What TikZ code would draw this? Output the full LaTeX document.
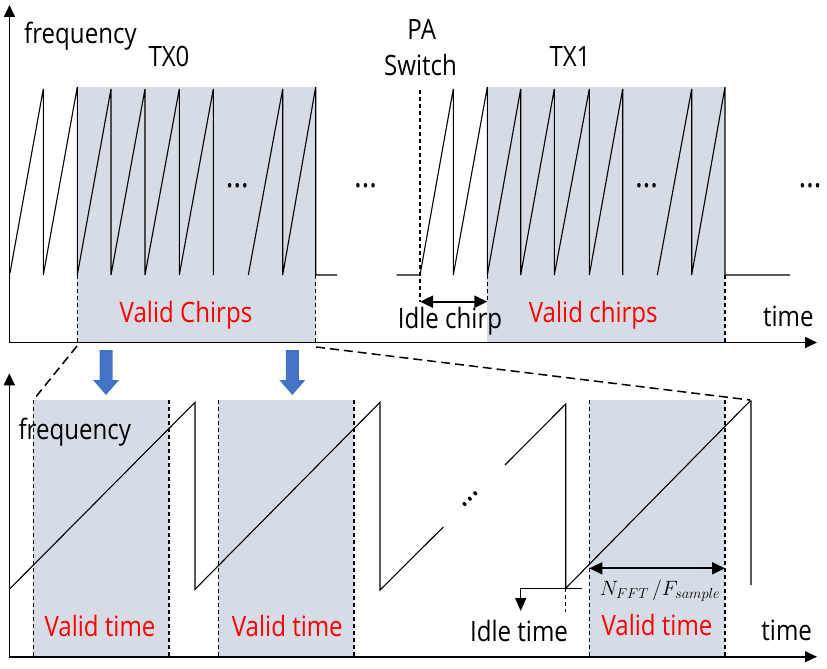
\documentclass[tikz,border=0pt]{standalone}
\usepackage{fontspec}
\setmainfont{Open Sans}[FakeStretch=0.86]
\usetikzlibrary{arrows.meta}
\definecolor{shade}{HTML}{D6DCE5}
\definecolor{bluearr}{HTML}{4472C4}
\definecolor{redtxt}{HTML}{FF0000}
\tikzset{
  axis/.style={line width=1.6pt, line join=miter, {Triangle[length=12pt,width=11pt]}-{Triangle[length=12pt,width=11pt]}},
  chirp/.style={line width=1.1pt, line join=miter},
  vdash/.style={line width=1.1pt, dash pattern=on 4pt off 3pt},
  zoomdash/.style={line width=1.5pt, dash pattern=on 9pt off 5pt},
  lbl/.style={font=\fontsize{28}{33}\selectfont, inner sep=0pt, anchor=base},
  redlbl/.style={lbl, text=redtxt},
  dotsl/.style={font=\fontsize{34}{34}\selectfont, inner sep=0pt},
  shadebox/.style={fill=shade, draw=none},
  dblarrow/.style={line width=2pt, {Triangle[length=13pt,width=12pt]}-{Triangle[length=13pt,width=12pt]}},
  bluedown/.style={fill=bluearr, draw=none}
}
\begin{document}
\begin{tikzpicture}[x=1pt,y=-1pt]
\useasboundingbox (0,0) rectangle (827,669);
% ---------- top panel ----------
\fill[shadebox] (77.3,87) rectangle (315.7,342);
\fill[shadebox] (487.3,87) rectangle (725,342);
% chirps TX0
\draw[chirp] (10,273) -- (43.3,89) -- (43.3,275) -- (77.3,87) -- (77.3,275) -- (111,89) -- (111,275)
  -- (145,89) -- (145,275) -- (179.3,89) -- (179.3,275) -- (213.3,89) -- (213.3,275);
\draw[chirp] (248.3,275) -- (282.7,89) -- (282.7,275) -- (315.7,87) -- (315.7,275) -- (337,275);
% chirps TX1
\draw[chirp] (396.7,275) -- (420,275) -- (453.3,89) -- (453.3,275) -- (487.3,87) -- (487.3,275)
  -- (520.7,89) -- (520.7,275) -- (554.3,89) -- (554.3,275) -- (589.3,89) -- (589.3,275)
  -- (622.7,89) -- (622.7,275);
\draw[chirp] (657.3,275) -- (691.7,89) -- (691.7,275) -- (725,87) -- (725,275) -- (790,275);
% dashed markers
\draw[vdash] (77.3,275) -- (77.3,342);
\draw[vdash] (315.7,275) -- (315.7,342);
\draw[vdash] (420,90) -- (420,302);
\draw[vdash] (487.3,275) -- (487.3,302);
\draw[vdash] (725,275) -- (725,342);
\coordinate (ica) at (420,301.7);
\coordinate (icb) at (487.3,301.7);
\draw[dblarrow] (ica) -- (icb);
% axes
\draw[axis] (9.5,5) -- (9.5,342.5) -- (817,342.5);
% labels
\node[lbl, anchor=base west] (freq1) at (24,44) {frequency};
\node[lbl] (tx0) at (169,66.7) {TX0};
\node[lbl] (pa) at (421.7,40) {PA};
\node[lbl] (sw) at (420.5,75) {Switch};
\node[lbl] (tx1) at (570,66.7) {TX1};
\node[redlbl] (vc0) at (186,322.7) {Valid Chirps};
\node[redlbl] (vc1) at (593.3,322.7) {Valid chirps};
\node[lbl] (idlec) at (450,328.3) {Idle chirp};
\node[lbl] (time1) at (788.3,326.7) {time};
\node[dotsl] (d1) at (237.3,186) {…};
\node[dotsl] (d2) at (365.7,186) {…};
\node[dotsl] (d3) at (646.7,186) {…};
\node[dotsl] (d4) at (810,186) {…};
% ---------- zoom connectors ----------
\draw[zoomdash] (77,346) -- (33.3,400);
\draw[zoomdash] (316,347) -- (750,400);
% blue arrows
\foreach \bx/\nm in {106/ba1, 292.3/ba2} {
  \fill[bluedown] (\bx-6.5,350) -- (\bx+6.5,350) -- (\bx+6.5,380) -- (\bx+13,380) -- (\bx,395)
    -- (\bx-13,380) -- (\bx-6.5,380) -- cycle;
}
% ---------- bottom panel ----------
\fill[shadebox] (33.3,400) rectangle (169,656.7);
\fill[shadebox] (218.3,400) rectangle (354,656.7);
\fill[shadebox] (589.3,400) rectangle (725,656.7);
\foreach \vx in {33.3,169,218.3,354,589.3,725} {
  \draw[vdash] (\vx,400) -- (\vx,656.7);
}
\draw[chirp] (9.3,589.3) -- (195,402.3) -- (195,589.3) -- (380,402.3) -- (380,590) -- (443.3,527);
\draw[chirp] (505,465) -- (565.7,404) -- (565.7,588.3) -- (750,401) -- (751,401) -- (751,585);
\node[dotsl, rotate=45] (d5) at (470,499) {…};
% idle time
\draw[vdash] (565.7,588.3) -- (565.7,612);
\coordinate (ita) at (581.7,588.3);
\coordinate (itb) at (520.7,588.3);
\coordinate (itc) at (520.7,611);
\draw[line width=1.5pt, line join=miter, -{Triangle[length=13pt,width=11pt]}] (ita) -- (itb) -- (itc);
% N_FFT arrow
\coordinate (nfa) at (589.3,568.3);
\coordinate (nfb) at (725,568.3);
\draw[dblarrow] (nfa) -- (nfb);
% axes
\draw[axis] (9.3,373.3) -- (9.3,656.7) -- (817,656.7);
% labels
\node[lbl, anchor=base west] (freq2) at (18.3,439.3) {frequency};
\node[redlbl] (vt1) at (100,636) {Valid time};
\node[redlbl] (vt2) at (287.3,636) {Valid time};
\node[redlbl] (vt3) at (657,635) {Valid time};
\node[lbl] (idlet) at (519,641.7) {Idle time};
\node[lbl] (time2) at (786.7,640) {time};
\node[inner sep=0pt, anchor=base, font=\fontsize{22}{26}\selectfont] (nfft) at (660,595)
  {$N_{FFT}\,/F_{sample}$};
\end{tikzpicture}
\end{document}
